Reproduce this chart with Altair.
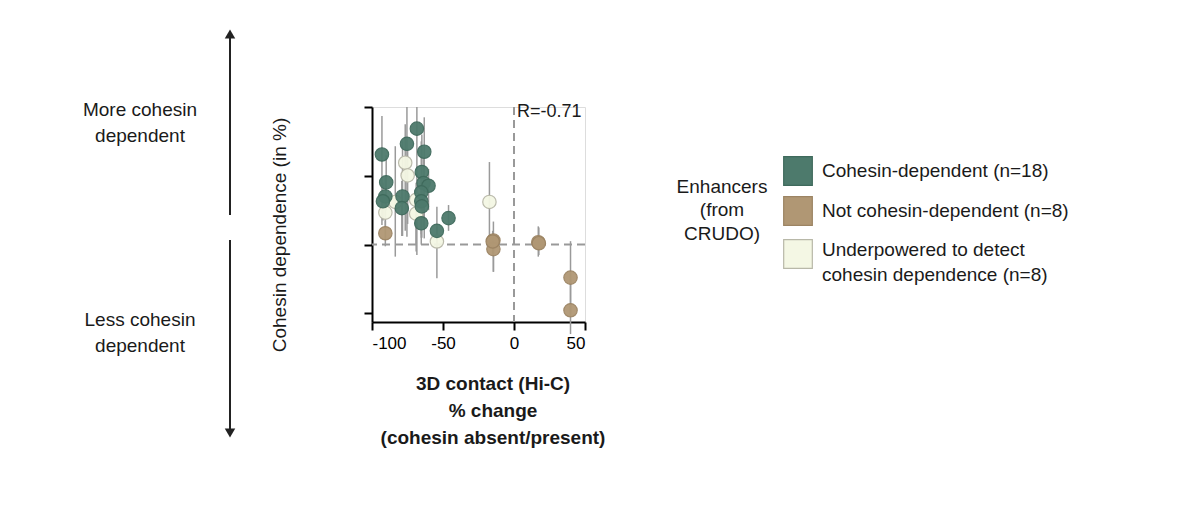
import altair as alt
import pandas as pd

FONT = "Liberation Sans"

# Hi-C % change, cohesin dependence, error bar low/high, group
x_vals = [-93, -90, -90.6, -92.3, -75.4, -68.4, -63.2, -64.9, -63.7, -60.2, -65.3, -78.5, -79, -65.3, -64.9, -65.3, -54.3, -46.1,
          -76.6, -74.9, -83.6, -90.6, -68.9, -68.9, -54.3, -17.3,
          -90.6, -14.5, -14.5, 17.1, 39.8, 39.8, -15, 17.5]
y_vals = [26.2, 18.1, 14, 12.6, 29.3, 33.7, 27, 21.1, 17.9, 17.1, 15.2, 14, 10.6, 12.6, 11.1, 6.2, 4, 7.7,
          23.8, 20.1, 12.4, 9.3, 13, 9, 0.9, 12.4,
          3.3, 1.2, -1.3, 0.7, -9.6, -19.1, 0.9, 0.4]
lo_vals = [5.7, 10, 8, 7, 2.3, -3, 1.8, 8, 5, 10, 3, 2.5, 2.5, 0, 2, 2, -1, 4,
           4, 6, -3.5, 5, 0, -2, -9.8, 0,
           -0.5, -7.9, -7.9, -3.5, -20, -26, -3, -3]
hi_vals = [37.4, 26, 20, 18, 40, 40, 37, 32, 25, 22, 30, 30, 18.5, 20, 18, 12, 11, 11.5,
           35, 28, 28.6, 15, 18, 15, 6, 24,
           7, 6.7, 3, 5.3, 1, -10, 4, 5]
groups = ["dep"] * 18 + ["under"] * 8 + ["not"] * 8

df = pd.DataFrame({"x": x_vals, "y": y_vals, "lo": lo_vals, "hi": hi_vals, "g": groups})
df["ord"] = df["g"].map({"dep": 2, "under": 1, "not": 0})

xs = alt.Scale(domain=[-100, 50], nice=False)
ys = alt.Scale(domain=[-22.5, 40], nice=False)
color = alt.Scale(domain=["dep", "not", "under"], range=["#4d7a6c", "#b09774", "#f4f7e4"])
stroke = alt.Scale(domain=["dep", "not", "under"], range=["#3f6a5c", "#9c8463", "#b8b8a8"])

base = alt.Chart(df)

bars = base.mark_rule(color="#9a9a9a", strokeWidth=1.5, clip=False).encode(
    x=alt.X("x:Q", scale=xs, axis=alt.Axis(values=[-100, -50, 0, 50], title=None, labelFont=FONT,
                                             labelFontSize=17, labelColor="black", domainColor="black",
                                             tickColor="black", tickSize=8, grid=False, domainWidth=2, tickWidth=2,
                                             labelPadding=5, labelExpr="replace(datum.label, '−', '-')")),
    y=alt.Y("lo:Q", scale=ys, axis=alt.Axis(values=[-20, 0, 20, 40], labels=False, title=None,
                                              domainColor="black", tickColor="black", tickSize=8, grid=False,
                                              domainWidth=2, tickWidth=2)),
    y2="hi:Q",
)

zero_df = pd.DataFrame({"v": [0]})
hline = alt.Chart(zero_df).mark_rule(color="#999999", strokeDash=[8, 5], strokeWidth=2).encode(y=alt.Y("v:Q", scale=ys))
vline = alt.Chart(zero_df).mark_rule(color="#999999", strokeDash=[8, 5], strokeWidth=2).encode(x=alt.X("v:Q", scale=xs))

pts = base.mark_circle(size=180, opacity=0.95, strokeWidth=1.2).encode(
    x=alt.X("x:Q", scale=xs),
    y=alt.Y("y:Q", scale=ys),
    fill=alt.Fill("g:N", scale=color, legend=None),
    stroke=alt.Stroke("g:N", scale=stroke, legend=None),
    order="ord:Q",
)

def txt(t, x, y, size=19, bold=False, align="center", angle=0):
    return alt.Chart(pd.DataFrame({"t": [t]})).mark_text(
        font=FONT, fontSize=size, fontWeight="bold" if bold else "normal", align=align,
        baseline="middle", angle=angle, color="#1a1a1a"
    ).encode(text="t:N", x=alt.value(x), y=alt.value(y))

def rule(x, y, y2):
    return alt.Chart(zero_df).mark_rule(color="#222222", strokeWidth=2).encode(
        x=alt.value(x), y=alt.value(y), y2=alt.value(y2))

def tri(shape, x, y):
    return alt.Chart(zero_df).mark_point(shape=shape, filled=True, size=110, color="#222222", opacity=1).encode(
        x=alt.value(x), y=alt.value(y))

deco = [
    rule(-142, -70, 108), rule(-142, 133, 323),
    tri("triangle-up", -142, -73), tri("triangle-down", -142, 326),
    txt("More cohesin", -232, 3), txt("dependent", -232, 29),
    txt("Less cohesin", -232, 213), txt("dependent", -232, 239),
    txt("Cohesin dependence (in %)", -92, 128, angle=270),
    txt("3D contact (Hi-C)", 121, 277, size=19, bold=True),
    txt("% change", 121, 304, size=19, bold=True),
    txt("(cohesin absent/present)", 121, 331, size=19, bold=True),
    txt("R=-0.71", 145, 5, size=18, align="left"),
    txt("Enhancers", 350, 80), txt("(from", 350, 103), txt("CRUDO)", 350, 127),
    txt("Cohesin-dependent (n=18)", 450, 64, align="left"),
    txt("Not cohesin-dependent (n=8)", 450, 104, align="left"),
    txt("Underpowered to detect", 450, 143, align="left"),
    txt("cohesin dependence (n=8)", 450, 168, align="left"),
]
leg_df = pd.DataFrame({"g": ["dep", "not", "under"], "py": [64, 104, 147]})
leg = alt.Chart(leg_df).mark_square(size=820, opacity=1, strokeWidth=1.2).encode(
    x=alt.value(426), y=alt.Y("py:Q", scale=None),
    fill=alt.Fill("g:N", scale=color, legend=None),
    stroke=alt.Stroke("g:N", scale=stroke, legend=None),
)

chart = alt.layer(bars, hline, vline, pts, leg, *deco).properties(
    width=213, height=215,
    autosize=alt.AutoSizeParams(type="none"),
    padding={"left": 364, "top": 99, "right": 600, "bottom": 190},
).configure_view(stroke="transparent", strokeWidth=0).configure(background="white")

chart.save("out.html", embed_options={"renderer": "svg", "actions": False})
